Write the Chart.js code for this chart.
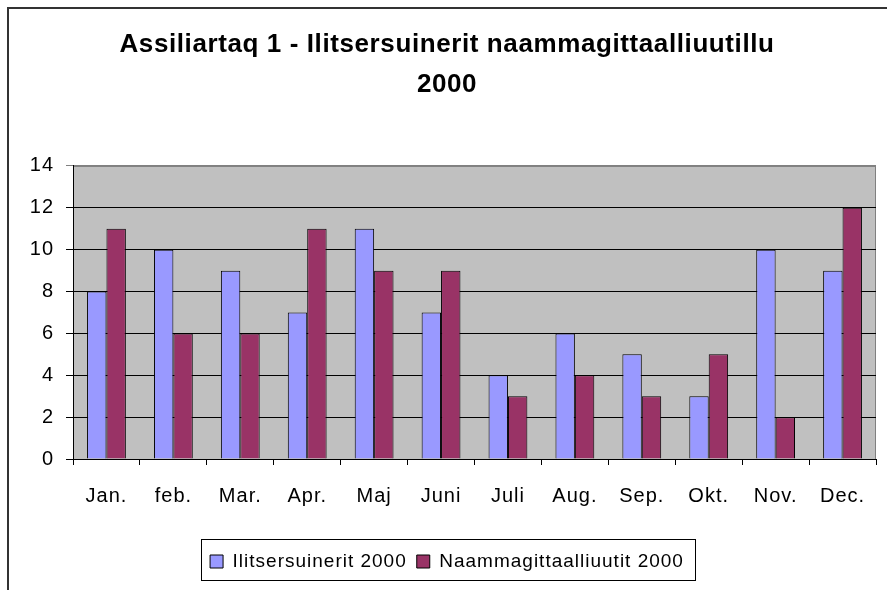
<!DOCTYPE html>
<html>
<head>
<meta charset="utf-8">
<script src="https://cdn.jsdelivr.net/npm/chart.js@4/dist/chart.umd.min.js"></script>
<style>
  html, body { margin: 0; padding: 0; background: #fff; }
  #wrap { width: 887px; height: 590px; }
</style>
</head>
<body>
<div id="wrap"><canvas id="ComplaintsChart"></canvas></div>
<script>
//
// Data
var months = ['Jan.', 'feb.', 'Mar.', 'Apr.', 'Maj', 'Juni', 'Juli', 'Aug.', 'Sep.', 'Okt.', 'Nov.', 'Dec.'];
var guidance_2000 = [8, 10, 9, 7, 11, 7, 4, 6, 5, 3, 10, 9];
var complaints_2000 = [11, 6, 6, 11, 9, 9, 3, 4, 3, 5, 2, 12];
var series_labels = ['Ilitsersuinerit 2000', 'Naammagittaalliuutit 2000'];
var title_lines = ['Assiliartaq 1 - Ilitsersuinerit naammagittaalliuutillu', '2000'];

var font_family = 'Arial, "Liberation Sans", sans-serif';

//
// Gray plot area, outer frame, legend box and letter spacing
var framePlugin = {
  id: 'frame',
  beforeLayout: function(chart) {
    chart.ctx.letterSpacing = '1px';
  },
  beforeDraw: function(chart) {
    var ctx = chart.ctx;
    var a = chart.chartArea;
    ctx.letterSpacing = '1px';

    // title uses a tighter spacing than the axis texts
    var tb = chart.titleBlock;
    if (tb && !tb._spaced) {
      var origDraw = tb.draw;
      tb.draw = function() {
        var old = ctx.letterSpacing;
        ctx.letterSpacing = '0.6px';
        origDraw.apply(this, arguments);
        ctx.letterSpacing = old;
      };
      tb._spaced = true;
    }

    ctx.save();
    ctx.fillStyle = '#C0C0C0';
    ctx.fillRect(a.left, a.top, a.right - a.left, a.bottom - a.top);
    ctx.strokeStyle = '#808080';
    ctx.lineWidth = 1;
    ctx.strokeRect(a.left + 0.5, a.top + 0.5, a.right - a.left - 1, a.bottom - a.top);

    // outer frame (only top and left visible)
    ctx.strokeStyle = '#333';
    ctx.lineWidth = 2;
    ctx.beginPath();
    ctx.moveTo(8, chart.height);
    ctx.lineTo(8, 8);
    ctx.lineTo(chart.width, 8);
    ctx.stroke();
    ctx.restore();
  },
  afterDraw: function(chart) {
    var boxes = chart.legend.legendHitBoxes;
    if (!boxes || !boxes.length) return;
    var first = boxes[0], last = boxes[boxes.length - 1];
    var ctx = chart.ctx;
    ctx.save();
    ctx.strokeStyle = '#000';
    ctx.lineWidth = 1;
    var x1 = Math.round(first.left) - 8.5;
    var x2 = Math.round(last.left + last.width) + 11.5;
    var y1 = Math.round(first.top) - 12.5;
    var y2 = Math.round(first.top + first.height) + 9.5;
    ctx.strokeRect(x1, y1, x2 - x1, y2 - y1);
    ctx.restore();
  }
};

var el = document.getElementById('ComplaintsChart');
new Chart(el.getContext('2d'), {
  type: 'bar',
  data: {
    labels: months,
    datasets: [{
      label: series_labels[0],
      data: guidance_2000,
      backgroundColor: '#9999FF',
      borderColor: '#000',
      borderWidth: 1
    }, {
      label: series_labels[1],
      data: complaints_2000,
      backgroundColor: '#993366',
      borderColor: '#000',
      borderWidth: 1
    }]
  },
  options: {
    responsive: true,
    maintainAspectRatio: false,
    animation: false,
    categoryPercentage: 0.58,
    barPercentage: 1,
    layout: { padding: { left: 18, right: 11, top: 0, bottom: 9 } },
    plugins: {
      title: {
        display: true,
        text: title_lines,
        color: '#000',
        font: { family: font_family, size: 26, weight: 'bold', lineHeight: 1.538 },
        padding: { top: 25, bottom: 61 }
      },
      legend: {
        position: 'bottom',
        labels: {
          color: '#000',
          boxWidth: 13,
          boxHeight: 13,
          padding: 10,
          font: { family: font_family, size: 19 }
        }
      },
      tooltip: { enabled: false }
    },
    scales: {
      x: {
        afterFit: function(scale) { scale.height = 83; },
        grid: {
          drawOnChartArea: false,
          drawTicks: true,
          tickLength: 6,
          color: '#000'
        },
        border: { color: '#000' },
        ticks: {
          color: '#000',
          padding: 19,
          font: { family: font_family, size: 20 }
        }
      },
      y: {
        min: 0,
        max: 14,
        afterFit: function(scale) { scale.width = 55; },
        grid: {
          color: function(c) { return c.tick && c.tick.value === 14 ? '#808080' : '#000'; },
          tickLength: 7
        },
        border: { color: '#000' },
        ticks: {
          stepSize: 2,
          color: '#000',
          padding: 12,
          font: { family: font_family, size: 20 }
        }
      }
    }
  },
  plugins: [framePlugin]
});
</script>
</body>
</html>
